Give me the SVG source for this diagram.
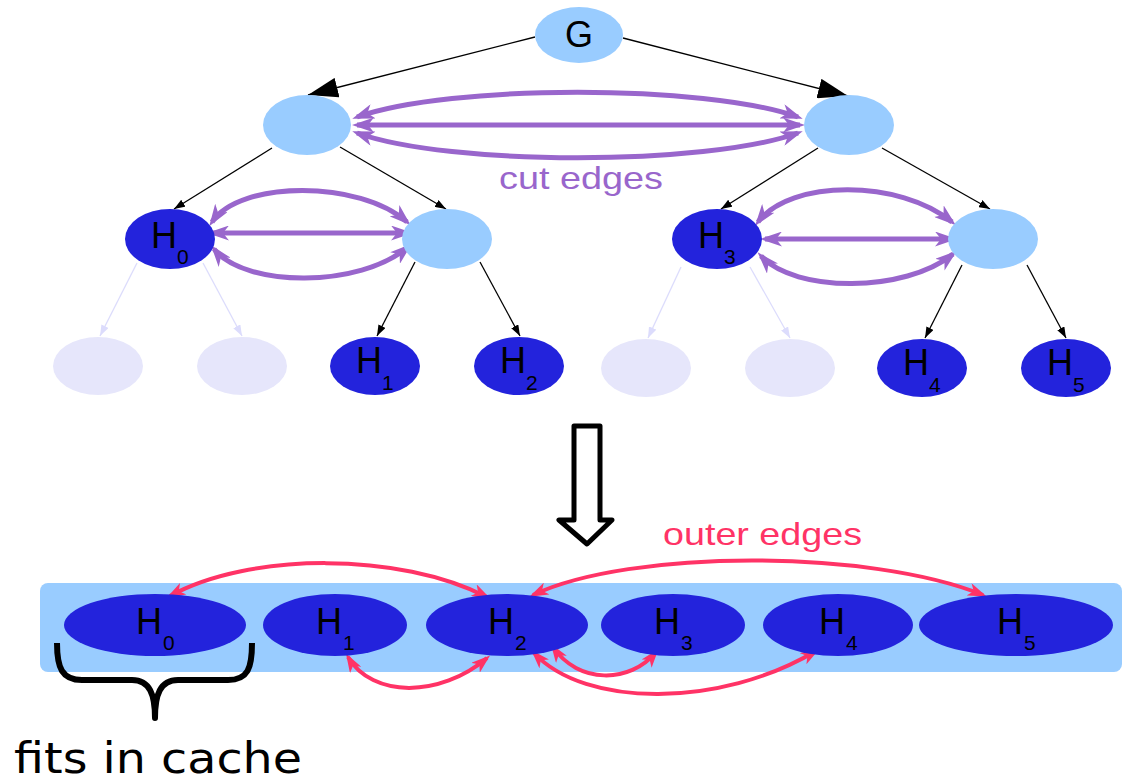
<svg xmlns="http://www.w3.org/2000/svg" width="1126" height="781" viewBox="0 0 1126 781">
  <style>
    .light { fill: #99ccff; }
    .dark { fill: #2323dc; }
    .faded { fill: #e6e6fb; }
    .lbl { font-family: "Liberation Sans", Arial, sans-serif; font-size: 36px; fill: #000; }
    .sub { font-size: 21px; }
    .tree { stroke: #000; stroke-width: 1.3; fill: none; }
    .treeFade { stroke: #dcdcfc; stroke-width: 1.3; fill: none; }
    .cut { stroke: #9966cc; stroke-width: 5; fill: none; }
    .outer { stroke: #ff3366; stroke-width: 4; fill: none; }
    .caption { font-family: "Liberation Sans", Arial, sans-serif; font-size: 32px; }
  </style>
  <defs>
    <marker id="arrBig" viewBox="0 0 30 20" markerWidth="30" markerHeight="20" refX="30" refY="10" orient="auto" markerUnits="userSpaceOnUse">
      <path d="M0,0 L30,10 L0,20 z" fill="#000"/>
    </marker>
    <marker id="arrSmall" viewBox="0 0 11 8" markerWidth="11" markerHeight="8" refX="11" refY="4" orient="auto" markerUnits="userSpaceOnUse">
      <path d="M0,0 L11,4 L0,8 z" fill="#000"/>
    </marker>
    <marker id="arrFade" viewBox="0 0 11 8" markerWidth="11" markerHeight="8" refX="11" refY="4" orient="auto" markerUnits="userSpaceOnUse">
      <path d="M0,0 L11,4 L0,8 z" fill="#dcdcfc"/>
    </marker>
    <marker id="arrPurple" viewBox="0 0 22 15" markerWidth="22" markerHeight="15" refX="17" refY="7.5" orient="auto-start-reverse" markerUnits="userSpaceOnUse">
      <path d="M0,0 L22,7.5 L0,15 L6,7.5 z" fill="#9966cc"/>
    </marker>
    <marker id="arrRed" viewBox="0 0 19 13" markerWidth="19" markerHeight="13" refX="15" refY="6.5" orient="auto-start-reverse" markerUnits="userSpaceOnUse">
      <path d="M0,0 L19,6.5 L0,13 L5,6.5 z" fill="#ff3366"/>
    </marker>
  </defs>

  <rect width="1126" height="781" fill="#fff"/>

  <!-- cache-blocked layout strip -->
  <rect id="strip" x="40" y="583" width="1082" height="89" rx="8" class="light"/>

  <!-- connectors -->
  <g id="connectors">
    <!-- root to first level -->
    <line class="tree" x1="535" y1="37" x2="308" y2="95" marker-end="url(#arrBig)"/>
    <line class="tree" x1="623" y1="38" x2="848" y2="96" marker-end="url(#arrBig)"/>
    <!-- first to second level -->
    <line class="tree" x1="272" y1="148" x2="174" y2="209" marker-end="url(#arrSmall)"/>
    <line class="tree" x1="340" y1="147" x2="446" y2="209" marker-end="url(#arrSmall)"/>
    <line class="tree" x1="818" y1="148" x2="721" y2="209" marker-end="url(#arrSmall)"/>
    <line class="tree" x1="882" y1="148" x2="990" y2="209" marker-end="url(#arrSmall)"/>
    <!-- second to third level -->
    <line class="treeFade" x1="137" y1="263" x2="100" y2="336" marker-end="url(#arrFade)"/>
    <line class="treeFade" x1="203" y1="263" x2="242" y2="336" marker-end="url(#arrFade)"/>
    <line class="tree" x1="415" y1="262" x2="377" y2="336" marker-end="url(#arrSmall)"/>
    <line class="tree" x1="480" y1="262" x2="520" y2="336" marker-end="url(#arrSmall)"/>
    <line class="treeFade" x1="681" y1="267" x2="648" y2="338" marker-end="url(#arrFade)"/>
    <line class="treeFade" x1="750" y1="267" x2="790" y2="338" marker-end="url(#arrFade)"/>
    <line class="tree" x1="962" y1="265" x2="925" y2="338" marker-end="url(#arrSmall)"/>
    <line class="tree" x1="1027" y1="265" x2="1066" y2="338" marker-end="url(#arrSmall)"/>

    <!-- cut edges, first level -->
    <path class="cut" d="M357,117 C450,84 705,84 798,117" marker-start="url(#arrPurple)" marker-end="url(#arrPurple)"/>
    <path class="cut" d="M357,125 L800,125" marker-start="url(#arrPurple)" marker-end="url(#arrPurple)"/>
    <path class="cut" d="M357,133 C450,166 705,166 798,133" marker-start="url(#arrPurple)" marker-end="url(#arrPurple)"/>
    <!-- cut edges, left subtree -->
    <path class="cut" d="M212,222 C240,180 360,180 407,222" marker-start="url(#arrPurple)" marker-end="url(#arrPurple)"/>
    <path class="cut" d="M212,233 L408,233" marker-start="url(#arrPurple)" marker-end="url(#arrPurple)"/>
    <path class="cut" d="M214,249 C245,288 360,288 408,247" marker-start="url(#arrPurple)" marker-end="url(#arrPurple)"/>
    <!-- cut edges, right subtree -->
    <path class="cut" d="M758,222 C790,179 900,179 952,222" marker-start="url(#arrPurple)" marker-end="url(#arrPurple)"/>
    <path class="cut" d="M765,239 L952,239" marker-start="url(#arrPurple)" marker-end="url(#arrPurple)"/>
    <path class="cut" d="M761,256 C795,293 905,293 953,254" marker-start="url(#arrPurple)" marker-end="url(#arrPurple)"/>

    <!-- outer edges between blocks -->
    <path class="outer" d="M170,596 C250,552 400,552 487,597" marker-start="url(#arrRed)" marker-end="url(#arrRed)"/>
    <path class="outer" d="M533,595 C630,549 870,549 983,595" marker-start="url(#arrRed)" marker-end="url(#arrRed)"/>
    <path class="outer" d="M348,657 C372,698 440,698 487,658" marker-start="url(#arrRed)" marker-end="url(#arrRed)"/>
    <path class="outer" d="M553,647 C578,684 630,684 656,652" marker-start="url(#arrRed)" marker-end="url(#arrRed)"/>
    <path class="outer" d="M534,653 C585,708 720,708 816,651" marker-start="url(#arrRed)" marker-end="url(#arrRed)"/>
  </g>

  <!-- tree nodes -->
  <g id="G">
    <ellipse cx="579" cy="35" rx="44" ry="28" class="light"/>
    <text x="579" y="47" class="lbl" font-size="34" text-anchor="middle">G</text>
  </g>
  <g id="A"><ellipse cx="307" cy="125" rx="44" ry="30" class="light"/></g>
  <g id="B"><ellipse cx="849" cy="125" rx="45" ry="30" class="light"/></g>

  <g id="tH0">
    <ellipse cx="170" cy="239" rx="45" ry="30" class="dark"/>
    <text class="lbl" x="151" y="248">H<tspan class="sub" x="177" y="264">0</tspan></text>
  </g>
  <g id="A2"><ellipse cx="447" cy="239" rx="45" ry="30" class="light"/></g>
  <g id="tH3">
    <ellipse cx="717" cy="239" rx="45" ry="30" class="dark"/>
    <text class="lbl" x="698" y="248">H<tspan class="sub" x="724" y="264">3</tspan></text>
  </g>
  <g id="B2"><ellipse cx="993" cy="239" rx="45" ry="30" class="light"/></g>

  <g id="f1"><ellipse cx="98" cy="366" rx="45" ry="29" class="faded"/></g>
  <g id="f2"><ellipse cx="242" cy="366" rx="45" ry="29" class="faded"/></g>
  <g id="tH1">
    <ellipse cx="375" cy="366" rx="45" ry="29" class="dark"/>
    <text class="lbl" x="356" y="373">H<tspan class="sub" x="382" y="390">1</tspan></text>
  </g>
  <g id="tH2">
    <ellipse cx="519" cy="366" rx="45" ry="29" class="dark"/>
    <text class="lbl" x="500" y="373">H<tspan class="sub" x="526" y="390">2</tspan></text>
  </g>
  <g id="f3"><ellipse cx="646" cy="368" rx="45" ry="29" class="faded"/></g>
  <g id="f4"><ellipse cx="790" cy="368" rx="45" ry="29" class="faded"/></g>
  <g id="tH4">
    <ellipse cx="922" cy="368" rx="45" ry="29" class="dark"/>
    <text class="lbl" x="903" y="375">H<tspan class="sub" x="929" y="392">4</tspan></text>
  </g>
  <g id="tH5">
    <ellipse cx="1066" cy="368" rx="45" ry="29" class="dark"/>
    <text class="lbl" x="1047" y="375">H<tspan class="sub" x="1073" y="392">5</tspan></text>
  </g>

  <text class="caption" x="499" y="189" fill="#9966cc" textLength="164" lengthAdjust="spacingAndGlyphs">cut edges</text>

  <!-- transformation arrow -->
  <path d="M574,426 L600,426 L600,520 L612,520 L587,544 L559,520 L574,520 Z" fill="#fff" stroke="#000" stroke-width="5" stroke-linejoin="round"/>

  <text class="caption" x="663" y="545" fill="#ff3366" textLength="199" lengthAdjust="spacingAndGlyphs">outer edges</text>

  <!-- blocks in memory order -->
  <g id="mH0">
    <ellipse cx="155" cy="625" rx="91" ry="31" class="dark"/>
    <text class="lbl" x="136" y="634">H<tspan class="sub" x="163" y="650">0</tspan></text>
  </g>
  <g id="mH1">
    <ellipse cx="335" cy="625" rx="72" ry="31" class="dark"/>
    <text class="lbl" x="316" y="634">H<tspan class="sub" x="343" y="650">1</tspan></text>
  </g>
  <g id="mH2">
    <ellipse cx="507" cy="625" rx="81" ry="31" class="dark"/>
    <text class="lbl" x="488" y="634">H<tspan class="sub" x="515" y="650">2</tspan></text>
  </g>
  <g id="mH3">
    <ellipse cx="673" cy="625" rx="72" ry="31" class="dark"/>
    <text class="lbl" x="654" y="634">H<tspan class="sub" x="681" y="650">3</tspan></text>
  </g>
  <g id="mH4">
    <ellipse cx="838" cy="625" rx="75" ry="31" class="dark"/>
    <text class="lbl" x="819" y="634">H<tspan class="sub" x="846" y="650">4</tspan></text>
  </g>
  <g id="mH5">
    <ellipse cx="1016" cy="625" rx="97" ry="31" class="dark"/>
    <text class="lbl" x="997" y="634">H<tspan class="sub" x="1024" y="650">5</tspan></text>
  </g>

  <!-- brace under the first block -->
  <path d="M57,643 C57,668 62,680 82,680 L132,680 C150,680 155,695 155,718 C155,695 160,680 178,680 L228,680 C248,680 252,668 252,643" fill="none" stroke="#000" stroke-width="6" stroke-linejoin="round"/>
  <text x="14" y="773" font-family="'DejaVu Sans', sans-serif" font-size="43" textLength="288" lengthAdjust="spacingAndGlyphs">fits in cache</text>
</svg>
